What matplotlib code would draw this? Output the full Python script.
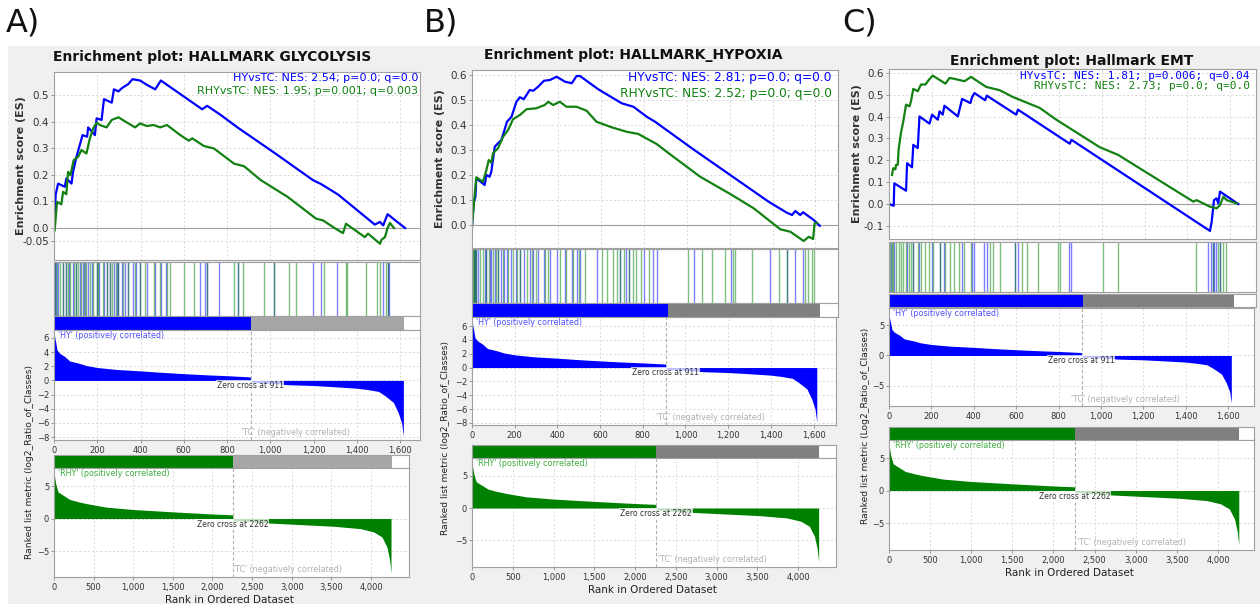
import matplotlib.pyplot as plt
from matplotlib.patches import Rectangle
from matplotlib.ticker import FuncFormatter

# ranked list metrics (same ranked lists in all three panels)
hy_rank = [0, 4, 8, 14, 26, 50, 73, 100, 119, 150, 200, 290, 400, 500, 600, 700, 800, 907, 911, 1000, 1080, 1200,
           1300, 1400, 1452, 1500, 1530, 1569, 1592, 1607, 1615]
hy_metric = [6.8, 6.0, 5.4, 4.3, 3.85, 3.37, 2.74, 2.55, 2.4, 2.1, 1.83, 1.55, 1.35, 1.14, 0.96, 0.8, 0.67, 0.5,
             -0.25, -0.4, -0.6, -0.72, -0.9, -1.1, -1.3, -1.55, -2.16, -3.1, -4.6, -6.0, -7.9]
rhy_rank = [0, 21, 51, 114, 198, 300, 409, 500, 662, 1000, 1500, 2000, 2255, 2262, 2685, 3106, 3528, 3865, 4034, 4139,
            4202, 4236, 4253]
rhy_metric = [7.06, 5.4, 4.1, 3.6, 2.94, 2.6, 2.3, 2.1, 1.75, 1.39, 1.03, 0.7, 0.57, -0.3, -0.67, -0.93, -1.19, -1.55,
              -2.06, -2.84, -4.4, -6.4, -8.4]
hy_zero_cross, hy_size = 911, 1620
rhy_zero_cross, rhy_size = 2262, 4260

# A) HALLMARK GLYCOLYSIS
a_hy_x = [0, 8, 19, 50, 57, 81, 88, 104, 132, 153, 158, 189, 197, 220, 231, 267, 277, 298, 313, 344, 363, 398, 429,
          468, 494, 600, 685, 708, 770, 848, 1018, 1197, 1235, 1313, 1483, 1507, 1522, 1542, 1623]
a_hy_es = [0.0, 0.127, 0.167, 0.155, 0.186, 0.167, 0.211, 0.268, 0.349, 0.343, 0.378, 0.349, 0.412, 0.406, 0.484,
           0.471, 0.521, 0.513, 0.525, 0.541, 0.559, 0.554, 0.538, 0.521, 0.554, 0.494, 0.446, 0.459, 0.425, 0.378,
           0.283, 0.18, 0.165, 0.126, 0.013, 0.023, 0.01, 0.052, 0.0]
a_rhy_x = [3, 14, 34, 42, 57, 65, 76, 91, 112, 127, 150, 166, 181, 197, 212, 243, 267, 298, 329, 375, 398, 429, 460,
           491, 522, 584, 623, 639, 693, 739, 832, 879, 956, 1080, 1212, 1243, 1297, 1336, 1350, 1437, 1452, 1507,
           1514, 1530, 1542, 1553, 1572]
a_rhy_es = [-0.009, 0.098, 0.089, 0.136, 0.127, 0.211, 0.198, 0.255, 0.268, 0.293, 0.28, 0.337, 0.374, 0.396, 0.387,
            0.378, 0.406, 0.416, 0.4, 0.378, 0.393, 0.383, 0.387, 0.378, 0.387, 0.349, 0.328, 0.337, 0.308, 0.299,
            0.242, 0.232, 0.18, 0.117, 0.035, 0.029, 0.0, -0.019, 0.016, -0.034, -0.021, -0.059, -0.044, -0.034, 0.0,
            0.019, 0.0]
a_hits_hy = [3, 8, 19, 40, 57, 70, 88, 104, 118, 132, 145, 158, 175, 197, 210, 231, 245, 260, 277, 290, 298, 313, 330,
             344, 363, 380, 398, 430, 468, 494, 520, 674, 696, 705, 763, 851, 1018, 1197, 1235, 1310, 1522, 1542, 1548]
a_hits_rhy = [3, 14, 30, 42, 57, 65, 76, 91, 100, 112, 127, 140, 150, 166, 181, 197, 205, 225, 243, 258, 267, 285,
              298, 320, 340, 375, 398, 420, 460, 491, 522, 538, 600, 646, 705, 832, 851, 876, 972, 1018, 1088, 1119,
              1248, 1349, 1355, 1442, 1491, 1507, 1533, 1542]

# B) HALLMARK_HYPOXIA
b_hy_x = [0, 8, 16, 20, 59, 67, 82, 90, 106, 121, 137, 163, 184, 207, 223, 241, 269, 285, 308, 335, 363, 394, 434,
          465, 487, 503, 588, 697, 752, 814, 853, 1024, 1203, 1382, 1467, 1491, 1506, 1529, 1542, 1592, 1620]
b_hy_es = [-0.004, 0.087, 0.113, 0.187, 0.16, 0.2, 0.193, 0.213, 0.313, 0.327, 0.34, 0.413, 0.433, 0.493, 0.511,
           0.503, 0.54, 0.537, 0.553, 0.577, 0.58, 0.593, 0.573, 0.567, 0.596, 0.596, 0.543, 0.487, 0.473, 0.433,
           0.413, 0.307, 0.2, 0.093, 0.049, 0.04, 0.056, 0.04, 0.051, 0.02, -0.003]
b_rhy_x = [0, 8, 20, 51, 67, 78, 90, 98, 121, 145, 168, 191, 223, 254, 300, 339, 355, 378, 409, 440, 487, 534, 580,
           650, 720, 775, 860, 938, 1063, 1203, 1312, 1436, 1483, 1545, 1569, 1589, 1596, 1607]
b_rhy_es = [-0.004, 0.08, 0.191, 0.173, 0.22, 0.26, 0.249, 0.287, 0.307, 0.353, 0.38, 0.423, 0.44, 0.463, 0.467,
            0.48, 0.493, 0.48, 0.493, 0.473, 0.473, 0.457, 0.413, 0.391, 0.373, 0.364, 0.324, 0.273, 0.193, 0.124,
            0.067, -0.017, -0.027, -0.064, -0.047, -0.056, 0.007, 0.009]
b_hits_hy = [0, 8, 16, 20, 30, 59, 67, 82, 90, 106, 121, 137, 150, 163, 184, 207, 223, 241, 269, 285, 308, 335, 363,
             394, 434, 465, 487, 503, 584, 689, 717, 733, 801, 842, 864, 1032, 1206, 1386, 1467, 1506, 1542]
b_hits_rhy = [0, 4, 8, 12, 20, 35, 51, 67, 78, 98, 110, 121, 145, 168, 191, 210, 223, 254, 280, 300, 339, 355, 409,
              440, 470, 500, 526, 604, 627, 655, 674, 689, 708, 733, 752, 764, 786, 826, 1008, 1071, 1117, 1179, 1218,
              1226, 1304, 1428, 1467, 1553, 1564, 1584, 1592]

# C) Hallmark EMT
c_hy_x = [0, 22, 25, 80, 85, 108, 114, 135, 143, 190, 202, 229, 237, 252, 260, 323, 343, 382, 390, 401, 451, 459,
          597, 605, 848, 856, 1506, 1514, 1525, 1537, 1545, 1553, 1639]
c_hy_es = [0.0, -0.008, 0.095, 0.061, 0.187, 0.168, 0.271, 0.256, 0.401, 0.368, 0.409, 0.386, 0.424, 0.409, 0.45,
           0.401, 0.481, 0.462, 0.49, 0.508, 0.475, 0.496, 0.409, 0.432, 0.276, 0.294, -0.123, -0.081, 0.018, 0.026,
           0.003, 0.057, 0.0]
c_rhy_x = [14, 20, 30, 33, 41, 45, 56, 67, 80, 96, 103, 114, 135, 150, 171, 186, 205, 265, 284, 307, 354, 385, 456,
           519, 581, 707, 785, 989, 1075, 1428, 1443, 1506, 1537, 1553, 1569, 1584, 1631]
c_rhy_es = [0.133, 0.164, 0.159, 0.179, 0.179, 0.248, 0.325, 0.378, 0.455, 0.447, 0.47, 0.527, 0.516, 0.547, 0.547,
            0.567, 0.588, 0.551, 0.577, 0.573, 0.562, 0.582, 0.536, 0.521, 0.49, 0.44, 0.386, 0.26, 0.225, 0.011,
            0.018, -0.012, -0.02, -0.005, 0.034, 0.018, 0.003]
c_hits_hy = [9, 25, 85, 114, 143, 202, 237, 260, 343, 390, 401, 448, 459, 589, 605, 845, 856, 1498, 1509, 1518, 1525,
             1534, 1553]
c_hits_rhy = [5, 14, 20, 33, 45, 56, 67, 80, 96, 103, 114, 135, 150, 171, 186, 205, 237, 265, 284, 307, 330, 354,
              385, 472, 490, 522, 589, 625, 647, 700, 793, 801, 1004, 1075, 1440, 1518, 1545, 1553, 1569, 1580]

W, H = 1260, 604
BLUE = '#0000ff'
GREEN = '#008000'
ES_GREEN = '#128112'

fig = plt.figure(figsize=(W / 100, H / 100), dpi=100)
fig.patch.set_facecolor('white')
fig.add_artist(Rectangle((8 / W, 0), 1 - 8 / W, 1 - 46 / H, transform=fig.transFigure,
                         facecolor='#f0f0f0', edgecolor='none', zorder=-5))

comma = FuncFormatter(lambda v, p: f'{int(v):,}')


def px_axes(box):
    l, t, r, b = box
    return fig.add_axes([l / W, 1 - b / H, (r - l) / W, (b - t) / H])


def ftext(x, y, s, **kw):
    return fig.text(x / W, 1 - y / H, s, **kw)


def style(ax, grid=True):
    for s in ax.spines.values():
        s.set_color('#a0a0a0')
        s.set_linewidth(0.8)
    if grid:
        ax.grid(True, ls=(0, (2.5, 2.5)), color='#d4d4d4', lw=0.6)
        ax.set_axisbelow(True)
    ax.tick_params(colors='#333333', length=2, width=0.6, pad=1.5, labelsize=6, color='#888888')


def class_bar(box, xmax, split, size, col, gray):
    ax = px_axes(box)
    ax.barh(0, split, left=0, height=1, color=col)
    ax.barh(0, size - split, left=split, height=1, color=gray)
    ax.set_xlim(0, xmax)
    ax.set_ylim(-0.5, 0.5)
    ax.set_xticks([])
    ax.set_yticks([])
    style(ax, grid=False)


def metric(box, xmax, ylim, yticks, xticks, ranks, vals, col, split, pos_label, pos_col, tc_x, zero_y):
    ax = px_axes(box)
    style(ax)
    ax.fill_between(ranks, vals, 0, color=col, lw=0)
    ax.axvline(split, color='#b0b0b0', ls=(0, (3, 2)), lw=0.8)
    ax.set_xlim(0, xmax)
    ax.set_ylim(*ylim)
    ax.set_yticks(yticks)
    ax.set_xticks(xticks)
    ax.xaxis.set_major_formatter(comma)
    ax.tick_params(axis='x', pad=2.5)
    ax.text(0.012, 0.99, pos_label, transform=ax.transAxes, color=pos_col, fontsize=5.8, va='top')
    ax.text(split - 5, zero_y, f'Zero cross at {split}', ha='center', va='center', fontsize=5.5, color='#333333',
            bbox=dict(facecolor='white', alpha=0.75, edgecolor='none', pad=0.6))
    ax.text(tc_x, ylim[0] + 0.4, "'TC' (negatively correlated)", ha='center', va='bottom', fontsize=5.8,
            color='#b0b0b0')
    return ax


def panel(p):
    # enrichment score
    ax = px_axes(p['es'])
    style(ax)
    ax.axhline(0, color='#a0a0a0', lw=0.8)
    ax.plot(p['hy_x'], p['hy_es'], color=BLUE, lw=1.6)
    ax.plot(p['rhy_x'], p['rhy_es'], color=ES_GREEN, lw=1.6)
    ax.set_xlim(0, p['xmax1'])
    ax.set_ylim(*p['es_ylim'])
    ax.set_xticks(range(0, 1601, 200))
    ax.set_yticks(p['es_ticks'])
    ax.set_yticklabels(p['es_labels'])
    ax.tick_params(bottom=False, labelbottom=False, labelsize=7.5)

    # hit barcode
    bc = px_axes(p['bc'])
    bc.vlines(p['hits_hy'], 0, 1, color=BLUE, alpha=0.5, lw=1)
    bc.vlines(p['hits_rhy'], 0, 1, color=GREEN, alpha=0.5, lw=1)
    bc.set_xlim(0, p['xmax1'])
    bc.set_ylim(0, 1)
    bc.set_xticks([])
    bc.set_yticks([])
    style(bc, grid=False)

    class_bar(p['cb1'], p['xmax1'], hy_zero_cross, hy_size, BLUE, p['gray'])
    metric(p['m1'], p['xmax1'], p['m1_ylim'], p['m1_ticks'], range(0, 1601, 200), hy_rank, hy_metric, BLUE,
           hy_zero_cross, "'HY' (positively correlated)", '#5050ff', 1118, -0.75)
    class_bar(p['cb2'], p['xmax2'], rhy_zero_cross, rhy_size, GREEN, p['gray'])
    metric(p['m2'], p['xmax2'], p['m2_ylim'], [-5, 0, 5], range(0, 4001, 500), rhy_rank, rhy_metric, GREEN,
           rhy_zero_cross, "'RHY' (positively correlated)", '#3fae3f', 2950, -0.85)

    # texts
    ftext(p['letter'][0], p['letter'][1], p['letter'][2], fontsize=23, va='top', ha='left', color='#111111')
    ftext(p['title_xy'][0], p['title_xy'][1], p['title'], fontsize=10, fontweight='bold', ha='center',
          va='center', color='#111111')
    ann = dict(ha='right', va='center', fontsize=p['ann_size'], family=p['ann_family'])
    ftext(p['ann_x'], p['ann_y'][0], p['ann'][0], color=BLUE, **ann)
    ftext(p['ann_x'], p['ann_y'][1], p['ann'][1], color=ES_GREEN, **ann)
    es_mid = (p['es'][1] + p['es'][3]) / 2
    ftext(p['es_lab_x'], es_mid, 'Enrichment score (ES)', rotation=90, fontsize=8, fontweight='bold',
          ha='center', va='center', color='#333333')
    ftext(p['rk_lab'][0], p['rk_lab'][1], p['rk_text'], rotation=90, fontsize=6.6, ha='center', va='center',
          color='#222222')
    ftext(p['xl'][0], p['xl'][1], 'Rank in Ordered Dataset', fontsize=7.5, ha='center', va='center',
          color='#222222')


panels = [
    dict(es=(54, 72, 420, 260), bc=(54, 262, 420, 316), cb1=(54, 316, 420, 330), m1=(54, 330, 420, 440),
         cb2=(54, 455, 409, 468), m2=(54, 468, 409, 577), xmax1=1692, xmax2=4480,
         es_ylim=(-0.12, 0.586), es_ticks=[-0.05, 0, 0.1, 0.2, 0.3, 0.4, 0.5],
         es_labels=['-0.05', '0.0', '0.1', '0.2', '0.3', '0.4', '0.5'],
         m1_ylim=(-8.42, 7.13), m1_ticks=[-8, -6, -4, -2, 0, 2, 4, 6], m2_ylim=(-9.0, 7.78),
         hy_x=a_hy_x, hy_es=a_hy_es, rhy_x=a_rhy_x, rhy_es=a_rhy_es, hits_hy=a_hits_hy, hits_rhy=a_hits_rhy,
         gray='#a6a6a6', letter=(6, 8, 'A)'), title='Enrichment plot: HALLMARK GLYCOLYSIS', title_xy=(212, 57),
         ann=('HYvsTC: NES: 2.54; p=0.0; q=0.0', 'RHYvsTC: NES: 1.95; p=0.001; q=0.003'), ann_x=418,
         ann_y=(78, 91), ann_size=8, ann_family='DejaVu Sans', es_lab_x=21, rk_lab=(29, 462),
         rk_text='Ranked list metric (log2_Ratio_of_Classes)', xl=(229, 600)),
    dict(es=(472, 70, 838, 248), bc=(472, 249, 838, 303), cb1=(472, 303, 838, 317), m1=(472, 317, 836, 425),
         cb2=(472, 445, 836, 458), m2=(472, 458, 836, 567), xmax1=1705, xmax2=4466,
         es_ylim=(-0.092, 0.62), es_ticks=[0, 0.1, 0.2, 0.3, 0.4, 0.5, 0.6],
         es_labels=['0.0', '0.1', '0.2', '0.3', '0.4', '0.5', '0.6'],
         m1_ylim=(-8.3, 7.3), m1_ticks=[-8, -6, -4, -2, 0, 2, 4, 6], m2_ylim=(-9.2, 7.8),
         hy_x=b_hy_x, hy_es=b_hy_es, rhy_x=b_rhy_x, rhy_es=b_rhy_es, hits_hy=b_hits_hy, hits_rhy=b_hits_rhy,
         gray='#808080', letter=(424, 8, 'B)'), title='Enrichment plot: HALLMARK_HYPOXIA', title_xy=(633, 55),
         ann=('HYvsTC: NES: 2.81; p=0.0; q=0.0', 'RHYvsTC: NES: 2.52; p=0.0; q=0.0'), ann_x=832,
         ann_y=(78, 93), ann_size=8.8, ann_family='DejaVu Sans', es_lab_x=440, rk_lab=(446, 438),
         rk_text='Ranked list metric (log2_Ratio_of_Classes)', xl=(652, 590)),
    dict(es=(889, 69, 1256, 239), bc=(889, 242, 1256, 292), cb1=(889, 294, 1256, 307), m1=(889, 308, 1254, 406),
         cb2=(889, 427, 1254, 440), m2=(889, 440, 1254, 550), xmax1=1722, xmax2=4438,
         es_ylim=(-0.16, 0.618), es_ticks=[-0.1, 0, 0.1, 0.2, 0.3, 0.4, 0.5, 0.6],
         es_labels=['-0.1', '0.0', '0.1', '0.2', '0.3', '0.4', '0.5', '0.6'],
         m1_ylim=(-8.4, 7.9), m1_ticks=[-5, 0, 5], m2_ylim=(-9.15, 7.77),
         hy_x=c_hy_x, hy_es=c_hy_es, rhy_x=c_rhy_x, rhy_es=c_rhy_es, hits_hy=c_hits_hy, hits_rhy=c_hits_rhy,
         gray='#808080', letter=(842, 8, 'C)'), title='Enrichment plot: Hallmark EMT', title_xy=(1072, 61),
         ann=('HYvsTC: NES: 1.81; p=0.006; q=0.04', 'RHYvsTC: NES: 2.73; p=0.0; q=0.0'), ann_x=1250,
         ann_y=(76, 86), ann_size=8, ann_family='DejaVu Sans Mono', es_lab_x=857, rk_lab=(865, 426),
         rk_text='Ranked list metric (Log2_Ratio_of_Classes)', xl=(1069, 573)),
]

for p in panels:
    panel(p)

fig.savefig('out.png', dpi=100, facecolor=fig.get_facecolor())
